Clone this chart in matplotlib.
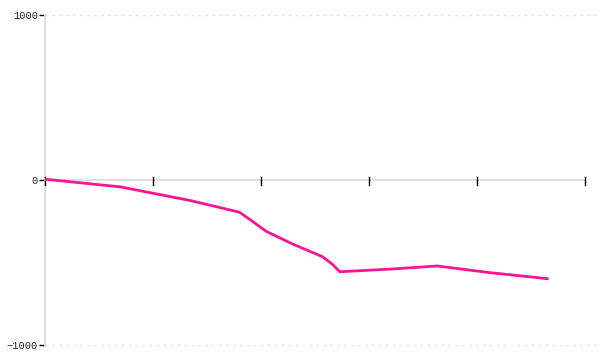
import matplotlib
matplotlib.use('Agg')
import matplotlib.pyplot as plt

# values (x in tick units, 0..5)
x_vals = [0.0, 0.70, 1.35, 1.80, 1.92, 2.05, 2.30, 2.57, 2.66, 2.73, 3.20, 3.63, 4.10, 4.65]
y_vals = [5, -42, -125, -195, -250, -312, -390, -465, -510, -556, -540, -521, -560, -598]
x_ticks = [0, 1, 2, 3, 4, 5]
y_ticks = [-1000, 0, 1000]

fig = plt.figure(figsize=(6, 3.6), dpi=100)
ax = fig.add_axes([45/600, 15/360, 555/600, 330/360])

# x axis line at zero, ends at last tick
ax.plot([x_ticks[0], x_ticks[-1]], [0, 0], color='#dddddd', lw=1.3, zorder=0)
ax.set_xticks(x_ticks)
ax.set_xticklabels([])
for t in x_ticks:
    ax.plot([t, t], [-30, 18], color='black', lw=1, clip_on=False, zorder=3)

ax.plot(x_vals, y_vals, color='#ff1493', lw=2, solid_joinstyle='round', zorder=4)

# dotted grid at top and bottom
for yv in [-1000, 1000]:
    ax.axhline(yv, color='#e6e6e6', lw=1, ls=(0, (2, 3)), clip_on=False, zorder=0)

ax.set_xlim(0, 5 * 555 / 540)
ax.set_ylim(-1000, 1000)
ax.set_yticks(y_ticks)
ax.set_yticklabels(['\u22121000', '0', '1000'], family='Liberation Mono', fontsize=7.5, color='#222222')
ax.tick_params(axis='y', length=4, width=1, color='black', pad=1)
ax.tick_params(axis='x', length=0)

for s in ['top', 'right', 'bottom']:
    ax.spines[s].set_visible(False)
ax.spines['left'].set_color('#dddddd')
ax.spines['left'].set_linewidth(1.3)

fig.savefig('out.png', dpi=100)
